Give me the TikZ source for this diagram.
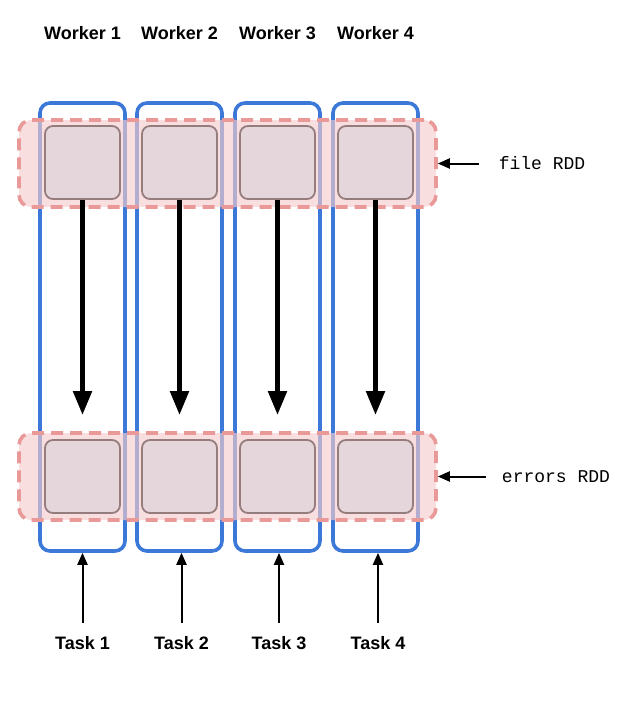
\documentclass[tikz,border=0pt]{standalone}
\usepackage{fontspec}
\setmainfont{Liberation Sans}
\setmonofont{Liberation Mono}
\usepackage{tikz}
\usetikzlibrary{arrows.meta}

\definecolor{workerblue}{RGB}{60,120,216}
\definecolor{rddpink}{RGB}{244,204,204}
\definecolor{rdddash}{RGB}{234,153,153}
\definecolor{partfill}{RGB}{229,214,220}
\definecolor{partdraw}{RGB}{150,125,125}

\begin{document}
\begin{tikzpicture}[x=1pt, y=-1pt,
        worker/.style={draw=workerblue, line width=3.6pt, rounded corners=10pt,
          minimum width=85pt, minimum height=448pt, inner sep=0pt},
        rddband/.style={draw=rdddash, fill=rddpink, fill opacity=0.65,
          line width=3.6pt, dash pattern=on 12pt off 7pt, rounded corners=12pt,
          minimum width=417pt, minimum height=87pt, inner sep=0pt},
        part/.style={draw=partdraw, fill=partfill, line width=1.8pt,
          rounded corners=8pt, minimum width=75pt, minimum height=73pt,
          inner sep=0pt},
        title/.style={font=\fontsize{18}{20}\selectfont\bfseries, inner sep=0pt},
        rddlabel/.style={font=\fontsize{18}{20}\selectfont\ttfamily, inner sep=0pt},
        flow/.style={line width=5pt, -{Triangle[width=18pt,length=24pt]}},
        pointer/.style={line width=2pt, -{Triangle[width=10pt,length=12pt]}}]
      \useasboundingbox (0,0) rectangle (623,705);
      % workers
      \node (w1) at (82.5,327) [worker] {};
      \node (w2) at (179.5,327) [worker] {};
      \node (w3) at (277.5,327) [worker] {};
      \node (w4) at (375.5,327) [worker] {};
      \node (h1) at (82.5,33) [title] {Worker 1};
      \node (h2) at (179.5,33) [title] {Worker 2};
      \node (h3) at (277.5,33) [title] {Worker 3};
      \node (h4) at (375.5,33) [title] {Worker 4};
      % RDDs
      \node (fb) at (227.5,163.5) [rddband] {};
      \node (eb) at (227.5,476.5) [rddband] {};
      \node (f1) at (82.5,162.5) [part] {};
      \node (f2) at (179.5,162.5) [part] {};
      \node (f3) at (277.5,162.5) [part] {};
      \node (f4) at (375.5,162.5) [part] {};
      \node (e1) at (82.5,476.5) [part] {};
      \node (e2) at (179.5,476.5) [part] {};
      \node (e3) at (277.5,476.5) [part] {};
      \node (e4) at (375.5,476.5) [part] {};
      \draw[flow, shorten >=24pt] (f1.south) -- (e1.north);
      \draw[flow, shorten >=24pt] (f2.south) -- (e2.north);
      \draw[flow, shorten >=24pt] (f3.south) -- (e3.north);
      \draw[flow, shorten >=24pt] (f4.south) -- (e4.north);
      \node (fl) at (542,163.5) [rddlabel] {file RDD};
      \node (el) at (556,476.5) [rddlabel] {errors RDD};
      \draw[pointer, shorten <=20pt] (fl.west) -- (fb.east);
      \draw[pointer, shorten <=16pt] (el.west) -- (eb.east);
      % tasks
      \node (t1) at (82.5,643) [title] {Task 1};
      \node (t2) at (181.5,643) [title] {Task 2};
      \node (t3) at (279,643) [title] {Task 3};
      \node (t4) at (378,643) [title] {Task 4};
      \draw[pointer, shorten <=13pt] (t1.north) -- (t1.north |- w1.south);
      \draw[pointer, shorten <=13pt] (t2.north) -- (t2.north |- w2.south);
      \draw[pointer, shorten <=13pt] (t3.north) -- (t3.north |- w3.south);
      \draw[pointer, shorten <=13pt] (t4.north) -- (t4.north |- w4.south);
    \end{tikzpicture}
\end{document}
